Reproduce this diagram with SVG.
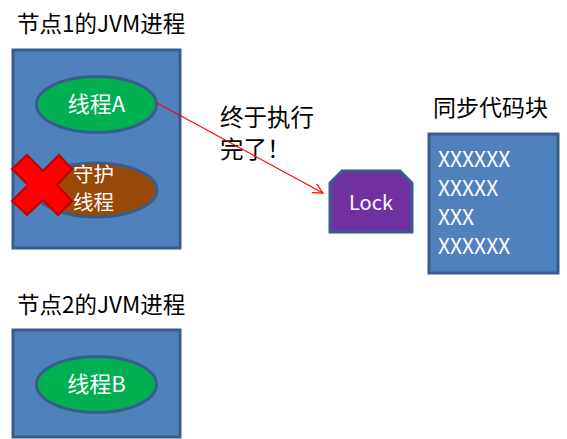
<svg xmlns="http://www.w3.org/2000/svg" width="567" height="439" viewBox="0 0 567 439">
<style>
.t{font-family:"Noto Sans CJK SC","Liberation Sans",sans-serif;fill:#000}
.w{font-family:"Noto Sans CJK SC","Liberation Sans",sans-serif;fill:#fff}
.box{fill:#4F81BD;stroke:#385D8A;stroke-width:3}
.g{fill:#00B050;stroke:#385D8A;stroke-width:3}
</style>
<defs>
<marker id="ah" markerWidth="12" markerHeight="12" refX="11" refY="6" orient="auto" markerUnits="userSpaceOnUse">
<path d="M1,1 L11,6 L1,11" fill="none" stroke="#FF0000" stroke-width="1.2"/>
</marker>
</defs>
<rect width="567" height="439" fill="#fff"/>
<text class="t" x="17" y="32" font-size="22.5">节点1的JVM进程</text>
<text class="t" x="17" y="313" font-size="22.5">节点2的JVM进程</text>
<g id="jvm1">
<rect class="box" x="13" y="50" width="167" height="198"/>
</g>
<g id="threadA">
<ellipse class="g" cx="96.5" cy="104.5" rx="60" ry="28"/>
<text class="w" x="96.5" y="112" font-size="22" text-anchor="middle">线程A</text>
</g>
<g id="daemon">
<ellipse cx="96" cy="190" rx="61" ry="27" fill="#984807" stroke="#385D8A" stroke-width="3"/>
<text class="w" x="73" y="182" font-size="20.5">守护</text>
<text class="w" x="73" y="210" font-size="20.5">线程</text>
</g>
<g id="cross">
<polygon points="27,155 43,171 59,155 72,169 57,185 72,201 58,215 43,200 27,215 12,201 28,185 12,169" fill="#FF0000" stroke="#C00000" stroke-width="2" stroke-linejoin="miter"/>
</g>
<g id="jvm2">
<rect class="box" x="13" y="330" width="167" height="107"/>
</g>
<g id="threadB">
<ellipse class="g" cx="96.5" cy="384.5" rx="60" ry="28"/>
<text class="w" x="96.5" y="392" font-size="22" text-anchor="middle">线程B</text>
</g>
<g id="label">
<text class="t" x="220" y="126" font-size="23.5">终于执行</text>
<text class="t" x="220" y="158" font-size="23.5">完了！</text>
</g>
<g id="lock">
<polygon points="342,171 400,171 412,183 412,232 330,232 330,183" fill="#7030A0" stroke="#385D8A" stroke-width="3"/>
<text class="w" x="371" y="210" font-size="20" text-anchor="middle">Lock</text>
</g>
<g id="code">
<text class="t" x="433" y="116" font-size="23">同步代码块</text>
<rect class="box" x="429" y="134" width="129" height="139"/>
<text class="w" x="438" y="167" font-size="21">XXXXXX</text>
<text class="w" x="438" y="196" font-size="21">XXXXX</text>
<text class="w" x="438" y="225" font-size="21">XXX</text>
<text class="w" x="438" y="254" font-size="21">XXXXXX</text>
</g>
<g id="connectors">
<line x1="157" y1="103" x2="323" y2="193" stroke="#FF0000" stroke-width="1.2" marker-end="url(#ah)"/>
</g>
</svg>
